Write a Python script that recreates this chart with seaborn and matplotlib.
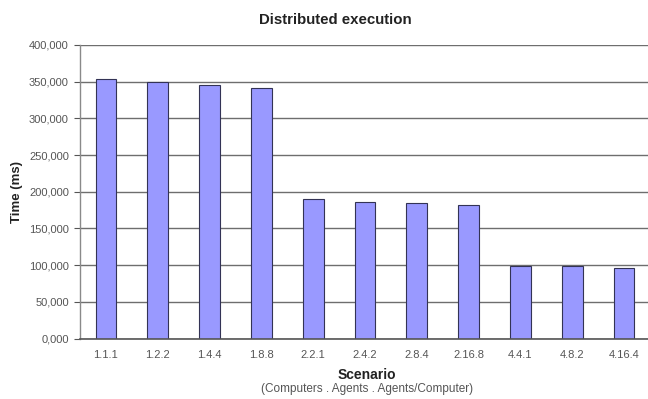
import matplotlib
matplotlib.use("Agg")
import matplotlib.pyplot as plt
import seaborn as sns
import numpy as np
import pandas as pd

scenarios = ["1.1.1", "1.2.2", "1.4.4", "1.8.8", "2.2.1", "2.4.2", "2.8.4",
             "2.16.8", "4.4.1", "4.8.2", "4.16.4"]
times_ms = [353700, 349200, 345500, 341800, 190500, 186400, 184200,
            181500, 98800, 98800, 96100]
y_ticks = [0, 50000, 100000, 150000, 200000, 250000, 300000, 350000, 400000]
y_tick_labels = ["0,000", "50,000", "100,000", "150,000", "200,000",
                 "250,000", "300,000", "350,000", "400,000"]

sns.set_style("white")
plt.rcParams['font.family'] = ['Liberation Sans', 'DejaVu Sans']

df = pd.DataFrame({"Scenario": scenarios, "Time": times_ms})

fig = plt.figure(figsize=(6.48, 3.99), dpi=100)
ax = fig.add_axes([80/648, 60.5/399, 570/648, 293.5/399])

sns.barplot(data=df, x="Scenario", y="Time", color="#9999FF",
            edgecolor="#333355", linewidth=0.8, width=0.4, saturation=1, ax=ax)

ax.set_ylim(0, 400000)
ax.set_xlim(-0.5, len(scenarios) - 0.5)
ax.set_yticks(y_ticks)
ax.set_yticklabels(y_tick_labels)
ax.yaxis.grid(True, color="#6e6e6e", linewidth=1.0)
ax.set_axisbelow(True)

for s in ["top", "right"]:
    ax.spines[s].set_visible(False)
ax.spines["left"].set_color("#8a8a8a")
ax.spines["bottom"].set_color("#555555")
ax.spines["left"].set_linewidth(1.0)
ax.spines["bottom"].set_linewidth(1.2)

ax.tick_params(axis="x", which="major", length=0, pad=8, labelsize=8, labelcolor="#555555")
ax.set_xticks(np.arange(-0.5, len(scenarios), 1.0), minor=True)
ax.tick_params(axis="x", which="minor", length=4, color="#555555", direction="out")
ax.tick_params(axis="y", length=4, color="#555555", direction="out", labelsize=8,
               labelcolor="#555555", left=True, pad=4)

ax.set_xlabel("")
ax.set_ylabel("Time (ms)", fontsize=9.5, fontweight="bold", color="#222222", labelpad=4)

fig.text(335/648, 1 - 20/399, "Distributed execution", ha="center", va="center",
         fontsize=10.8, fontweight="bold", color="#222222")
fig.text(367/648, 1 - 375/399, "Scenario", ha="center", va="center",
         fontsize=10, fontweight="bold", color="#222222")
fig.text(367/648, 1 - 389/399, "(Computers . Agents . Agents/Computer)", ha="center",
         va="center", fontsize=8.5, color="#555555")

fig.savefig("out.png", dpi=100)
